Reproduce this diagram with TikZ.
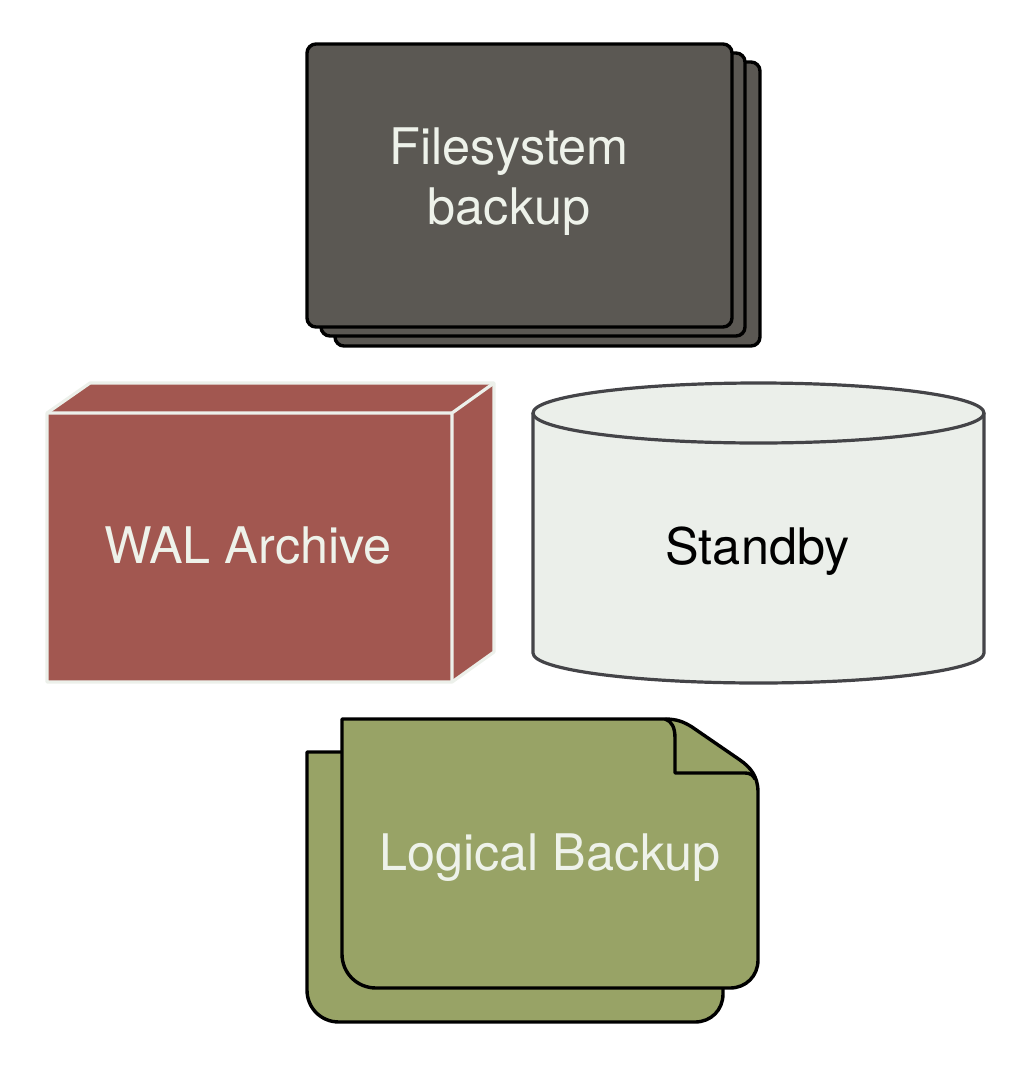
\documentclass[tikz,border=0pt]{standalone}
\usepackage{fontspec}
\setmainfont{TeX Gyre Heros}
\usetikzlibrary{positioning}
\definecolor{fsgray}{RGB}{91,88,83}
\definecolor{walred}{RGB}{162,87,80}
\definecolor{paleline}{RGB}{236,240,234}
\definecolor{standbyfill}{RGB}{235,239,234}
\definecolor{standbyline}{RGB}{68,68,72}
\definecolor{logicgreen}{RGB}{152,163,102}
\definecolor{palelabel}{RGB}{238,242,234}

\begin{document}
\begin{tikzpicture}[x=0.5pt, y=-0.5pt,
  label/.style={font=\fontsize{25.2}{30}\selectfont, inner sep=0pt, align=center},
  sheet/.style={draw=black, line width=1.7pt, line join=round},
  fssheet/.style={sheet, fill=fsgray, rounded corners=4.5pt}]
\useasboundingbox (0,0) rectangle (1029,1066);

% Filesystem backup (stack of three sheets)
\draw[fssheet] (335,62) rectangle (760,346);
\draw[fssheet] (321,53) rectangle (745,336);
\draw[fssheet] (307,44) rectangle (732,327);
\node[label, text=palelabel] (fs) at (509,181.5) {Filesystem\\backup};

% WAL archive (box)
\draw[fill=walred, draw=paleline, line width=1.6pt, line join=round]
  (47,413) -- (90,383) -- (494,383) -- (494,652) -- (452,682) -- (47,682) -- cycle;
\draw[draw=paleline, line width=1.6pt, line join=round]
  (47,413) -- (452,413) -- (494,383) (452,413) -- (452,682);
\node[label, text=palelabel, anchor=base] (wal) at (248,563) {WAL Archive};

% Standby (cylinder)
\draw[fill=standbyfill, draw=standbyline, line width=1.6pt]
  (533,413) -- (533,653) .. controls (533,669.6) and (633.9,683) .. (758.5,683)
  .. controls (883.1,683) and (984,669.6) .. (984,653) -- (984,413);
\draw[fill=standbyfill, draw=standbyline, line width=1.6pt]
  (758.5,413) ellipse [x radius=225.5, y radius=30];
\node[label, text=black, anchor=base] (standby) at (757.5,564) {Standby};

% Logical backup (two dog-eared sheets)
\draw[sheet, fill=logicgreen]
  (307,752) -- (723,752) -- (723,994) .. controls (723,1010) and (711,1022) .. (695,1022)
  -- (339,1022) .. controls (321,1022) and (307,1008) .. (307,990) -- cycle;
\draw[sheet, fill=logicgreen]
  (342,719) -- (665,719) .. controls (677,719) and (684,722) .. (692,727)
  -- (740,760) .. controls (750,767) and (758,776) .. (758,792)
  -- (758,960) .. controls (758,976) and (746,988) .. (730,988)
  -- (376,988) .. controls (357,988) and (342,973) .. (342,954) -- cycle;
\draw[sheet] (665,719) .. controls (672,721) and (675,728) .. (675,738)
  -- (675,773) -- (745,773) .. controls (750,773) and (753,775) .. (755,779);
\node[label, text=palelabel, anchor=base] (logical) at (550,870) {Logical Backup};
\end{tikzpicture}
\end{document}
